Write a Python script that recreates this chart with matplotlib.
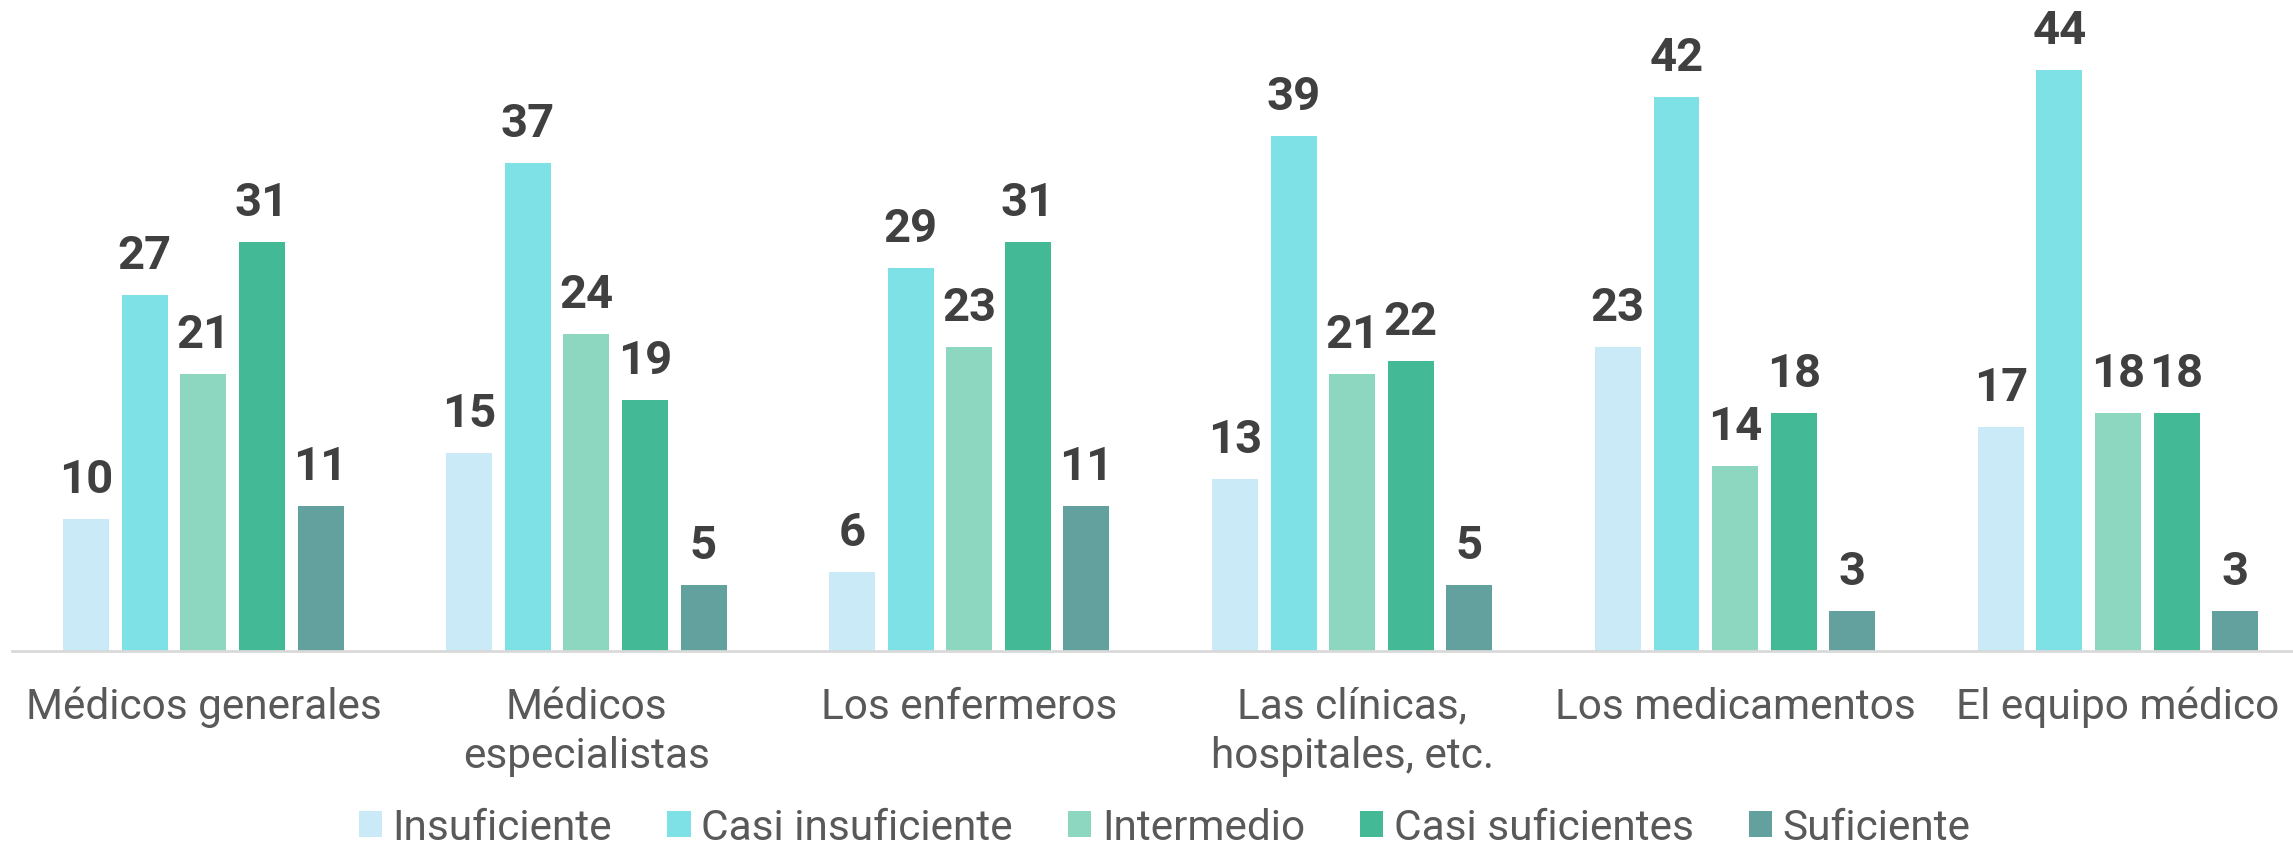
import numpy as np
import matplotlib
matplotlib.use("Agg")
import matplotlib.pyplot as plt
from matplotlib.patches import Patch

plt.rcParams['font.family'] = ['Roboto', 'DejaVu Sans']

categories = ["Médicos generales", "Médicos\nespecialistas", "Los enfermeros",
              "Las clínicas,\nhospitales, etc.", "Los medicamentos", "El equipo médico"]
series = ["Insuficiente", "Casi insuficiente", "Intermedio", "Casi suficientes", "Suficiente"]
insuficiente = [10, 15, 6, 13, 23, 17]
casi_insuficiente = [27, 37, 29, 39, 42, 44]
intermedio = [21, 24, 23, 21, 14, 18]
casi_suficientes = [31, 19, 31, 22, 18, 18]
suficiente = [11, 5, 11, 5, 3, 3]
colors = ["#C9EAF6", "#7DE1E6", "#8DD6BF", "#43B995", "#63A19E"]

values = [insuficiente, casi_insuficiente, intermedio, casi_suficientes, suficiente]

fig = plt.figure(figsize=(22.93, 8.45), dpi=100)
ax = fig.add_axes([12 / 2293, (845 - 652) / 845, 1 - 12 / 2293, 652 / 845])

x = np.arange(len(categories))
pitch = 0.153
width = 0.12
for i, (vals, col) in enumerate(zip(values, colors)):
    pos = x + (i - 2) * pitch
    bars = ax.bar(pos, vals, width, color=col, label=series[i], zorder=2)
    for b, v in zip(bars, vals):
        ax.annotate(str(v), (b.get_x() + b.get_width() / 2, v), xytext=(0, 18),
                    textcoords="offset pixels", ha="center", va="bottom",
                    fontsize=34, fontweight="bold", color="#404040")

ax.set_xlim(-0.5, 5.457)
ax.set_ylim(0, 49.4)
for s in ["top", "right", "left"]:
    ax.spines[s].set_visible(False)
ax.spines["bottom"].set_color("#D9D9D9")
ax.spines["bottom"].set_linewidth(2)
ax.set_yticks([])
ax.set_xticks(x)
ax.set_xticklabels(categories, fontsize=30.5, color="#595959", linespacing=1.25)
ax.tick_params(axis="x", length=0, pad=25)

handles = [Patch(facecolor=c, label=s) for c, s in zip(colors, series)]
fig.legend(handles=handles, loc="lower center", bbox_to_anchor=(0.508, -0.05), ncol=5,
           frameon=False, fontsize=30.5, labelcolor="#595959",
           handlelength=0.55, handleheight=0.55, handletextpad=0.25, columnspacing=1.3)

fig.savefig("out.png", dpi=100)
